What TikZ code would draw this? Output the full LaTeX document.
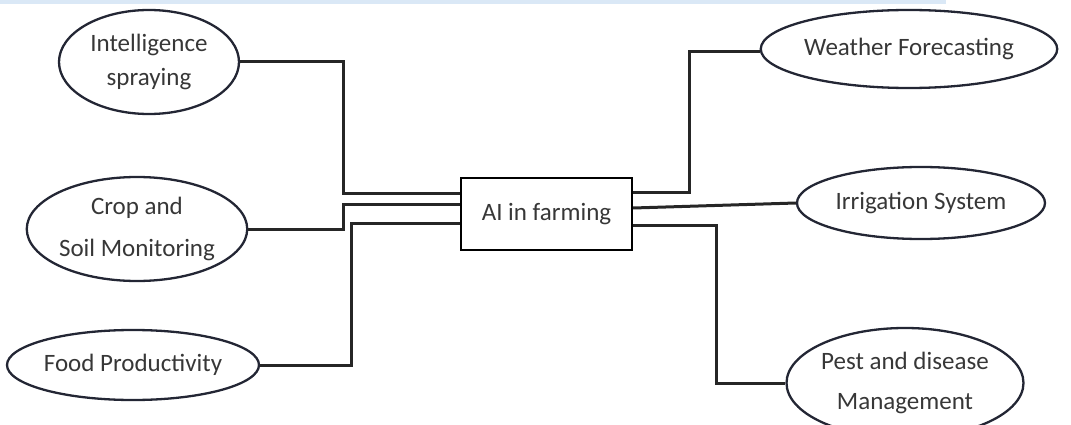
\documentclass[tikz,border=0pt]{standalone}
\usepackage{fontspec}
\setmainfont{Carlito}
\usepackage{tikz}
\usetikzlibrary{shapes.geometric}
\definecolor{tinta}{RGB}{55, 55, 55}
\definecolor{borde}{RGB}{35, 38, 52}
\definecolor{franja}{RGB}{218, 232, 246}
\tikzset{
    topic/.style={draw=borde, ellipse, line width=2.3pt, text=tinta, align=center, inner sep=0pt, font=\fontsize{25}{34}\selectfont},
    hub/.style={draw=black, rectangle, line width=2.4pt, text=tinta, minimum width=171pt, minimum height=72pt, font=\fontsize{25}{30}\selectfont},
    conn/.style={-, black!85, line width=3pt},
}
\begin{document}
\begin{tikzpicture}[x=1pt, y=-1pt]
        \useasboundingbox (0,0) rectangle (1071,425);
        \fill[franja] (0,0) rectangle (946,4);

        \node [hub] (ai) at (546.5,214) {AI in farming};

        \node [topic, minimum width=180pt, minimum height=104pt] (spray) at (149,62) {Intelligence\\spraying};
        \node [topic, minimum width=212pt, minimum height=104pt] (crop) at (137,229) {Crop and\\[8pt]Soil Monitoring};
        \node [topic, minimum width=246pt, minimum height=70pt] (food) at (133,365) {Food Productivity};
        \node [topic, minimum width=288pt, minimum height=78pt] (weather) at (909,49) {Weather Forecasting};
        \node [topic, minimum width=248pt, minimum height=72pt] (irrig) at (921,203) {Irrigation System};
        \node [topic, minimum width=210pt, minimum height=110pt] (pest) at (905,383) {Pest and disease\\[6pt]Management};

        \draw[conn] (spray.east) -| (343,193) -- (ai.west |- 0,193);
        \draw[conn] (crop.east) -| (343,204) -- (ai.west |- 0,204);
        \draw[conn] (food.east) -| (351,223) -- (ai.west |- 0,223);

        \draw[conn] (ai.east |- 0,192) -| (689,52) -- (weather.west |- 0,52);
        \draw[conn] (ai.east |- 0,208) -- (irrig.west);
        \draw[conn] (ai.east |- 0,225) -| (716,383) -- (pest.west);
\end{tikzpicture}
\end{document}
